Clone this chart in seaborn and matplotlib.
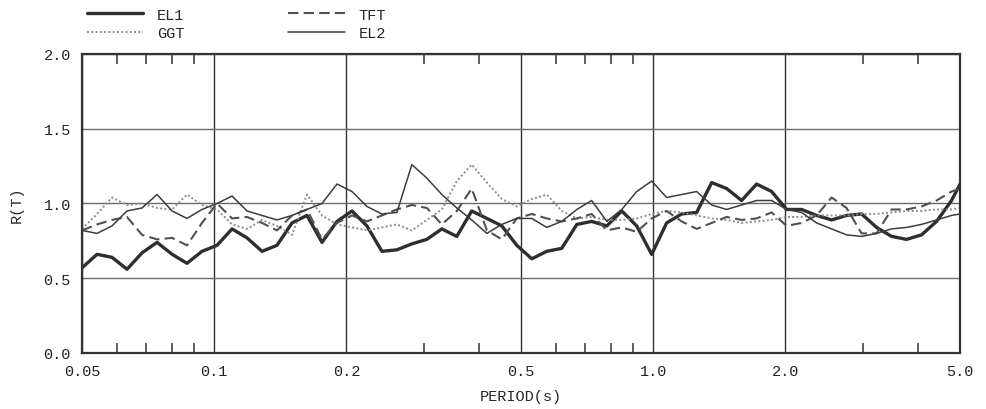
import matplotlib
matplotlib.use("Agg")
import matplotlib.pyplot as plt
from matplotlib.ticker import FixedLocator, NullFormatter
import seaborn as sns

# periods (s)
periods = [0.05, 0.0541, 0.0585, 0.0633, 0.0685, 0.0741, 0.0802, 0.0867, 0.0938, 0.1015,
           0.1098, 0.1188, 0.1285, 0.139, 0.1504, 0.1627, 0.176, 0.1904, 0.206, 0.2228,
           0.241, 0.2607, 0.282, 0.305, 0.330, 0.357, 0.386, 0.418, 0.452, 0.489,
           0.529, 0.572, 0.619, 0.670, 0.724, 0.784, 0.848, 0.917, 0.992, 1.073,
           1.161, 1.256, 1.359, 1.470, 1.590, 1.720, 1.861, 2.013, 2.178, 2.356,
           2.549, 2.757, 2.983, 3.227, 3.491, 3.776, 4.085, 4.420, 4.781, 5.0]

el1 = [0.57, 0.66, 0.64, 0.56, 0.67, 0.74, 0.66, 0.60, 0.68, 0.72,
       0.83, 0.77, 0.68, 0.72, 0.87, 0.92, 0.74, 0.88, 0.95, 0.85,
       0.68, 0.69, 0.73, 0.76, 0.83, 0.78, 0.95, 0.90, 0.85, 0.72,
       0.63, 0.68, 0.70, 0.86, 0.88, 0.85, 0.95, 0.85, 0.66, 0.87,
       0.93, 0.94, 1.14, 1.10, 1.02, 1.13, 1.08, 0.96, 0.96, 0.92,
       0.89, 0.92, 0.93, 0.84, 0.78, 0.76, 0.79, 0.88, 1.02, 1.13]

el2 = [0.82, 0.80, 0.85, 0.95, 0.97, 1.06, 0.95, 0.90, 0.96, 1.00,
       1.05, 0.95, 0.92, 0.89, 0.92, 0.96, 1.00, 1.13, 1.08, 0.98,
       0.93, 0.94, 1.26, 1.17, 1.06, 0.97, 0.89, 0.80, 0.86, 0.90,
       0.90, 0.84, 0.88, 0.96, 1.02, 0.88, 0.96, 1.08, 1.15, 1.04,
       1.06, 1.08, 0.99, 0.96, 0.99, 1.02, 1.02, 0.96, 0.94, 0.87,
       0.83, 0.79, 0.78, 0.80, 0.83, 0.84, 0.86, 0.89, 0.92, 0.93]

tft = [0.82, 0.86, 0.89, 0.91, 0.79, 0.76, 0.77, 0.72, 0.87, 1.00,
       0.90, 0.91, 0.87, 0.82, 0.92, 0.96, 0.76, 0.87, 0.92, 0.88,
       0.92, 0.96, 0.99, 0.97, 0.86, 0.95, 1.10, 0.82, 0.76, 0.90,
       0.93, 0.90, 0.88, 0.90, 0.93, 0.82, 0.84, 0.81, 0.90, 0.95,
       0.88, 0.83, 0.87, 0.91, 0.89, 0.90, 0.94, 0.85, 0.87, 0.92,
       1.04, 0.97, 0.80, 0.80, 0.96, 0.96, 0.98, 1.02, 1.08, 1.10]

ggt = [0.83, 0.93, 1.04, 0.99, 1.00, 0.97, 0.96, 1.06, 0.99, 0.96,
       0.86, 0.83, 0.89, 0.85, 0.79, 1.06, 0.92, 0.86, 0.84, 0.82,
       0.84, 0.86, 0.82, 0.89, 0.96, 1.15, 1.26, 1.14, 1.03, 0.98,
       1.03, 1.06, 0.95, 0.90, 0.91, 0.89, 0.89, 0.90, 0.93, 0.95,
       0.94, 0.92, 0.90, 0.89, 0.87, 0.88, 0.89, 0.91, 0.91, 0.92,
       0.92, 0.92, 0.93, 0.93, 0.94, 0.95, 0.95, 0.96, 0.96, 0.97]

major_ticks = [0.05, 0.1, 0.2, 0.5, 1.0, 2.0, 5.0]
major_labels = ["0.05", "0.1", "0.2", "0.5", "1.0", "2.0", "5.0"]
minor_ticks = [0.06, 0.07, 0.08, 0.09, 0.3, 0.4, 0.6, 0.7, 0.8, 0.9, 3.0, 4.0]
y_ticks = [0.0, 0.5, 1.0, 1.5, 2.0]

sns.set_style("white", {"xtick.bottom": True, "xtick.top": True,
                        "xtick.direction": "in", "ytick.left": True})
plt.rcParams['font.family'] = ['Liberation Mono', 'DejaVu Sans']
plt.rcParams['xtick.minor.size'] = 7
plt.rcParams['xtick.minor.width'] = 1.1

fig = plt.figure(figsize=(9.86, 4.10), dpi=100)
ax = fig.add_axes([0.0832, 0.1366, 0.8905, 0.7293])

sns.lineplot(x=periods, y=el1, ax=ax, color='#2e2e2e', lw=2.4, label='EL1',
             estimator=None, sort=False)
sns.lineplot(x=periods, y=ggt, ax=ax, color='#8c8c8c', lw=1.4, linestyle=(0, (1, 1.2)),
             label='GGT', estimator=None, sort=False)
sns.lineplot(x=periods, y=tft, ax=ax, color='#505050', lw=1.5, linestyle=(0, (5, 2.5)),
             label='TFT', estimator=None, sort=False)
sns.lineplot(x=periods, y=el2, ax=ax, color='#3c3c3c', lw=1.1, label='EL2',
             estimator=None, sort=False)

ax.set_xscale('log')
ax.set_xlim(0.05, 5.0)
ax.set_ylim(0, 2.0)
ax.xaxis.set_major_locator(FixedLocator(major_ticks))
ax.set_xticklabels(major_labels)
ax.set_xticks(minor_ticks, minor=True)
ax.xaxis.set_minor_formatter(NullFormatter())
ax.set_yticks(y_ticks)
ax.set_yticklabels(["%.1f" % v for v in y_ticks])

ax.grid(axis='x', which='major', color='#333333', lw=1.0)
ax.grid(axis='y', which='major', color='#6a6a6a', lw=1.0)
ax.set_axisbelow(True)

ax.tick_params(axis='both', which='major', length=0, pad=8, labelsize=11, colors='#222222')
ax.tick_params(axis='x', which='minor', direction='in', top=True, bottom=True,
               length=7, width=1.1, color='#333333')
for s in ax.spines.values():
    s.set_color('#333333')
    s.set_linewidth(1.6)

ax.set_xlabel('PERIOD(s)', fontsize=11, labelpad=8)
ax.set_ylabel('R(T)', fontsize=11, labelpad=14)

handles, labels = ax.get_legend_handles_labels()
ax.get_legend().remove()
fig.legend(handles, labels, loc='upper left', bbox_to_anchor=(0.074, 1.012), ncol=2,
           frameon=False, fontsize=11, handlelength=3.7, columnspacing=6.8,
           labelspacing=0.3, handletextpad=0.9)

fig.savefig('out.png', dpi=100)
